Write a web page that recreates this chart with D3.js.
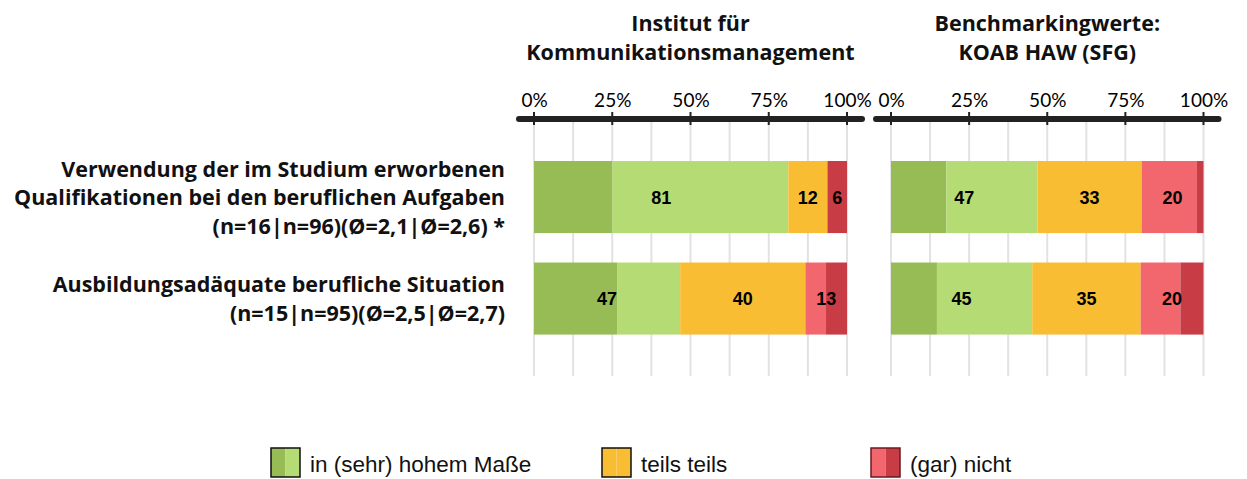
<!DOCTYPE html>
<html>
<head>
<meta charset="utf-8">
<script src="https://cdn.jsdelivr.net/npm/d3@7"></script>
<style>
  body { margin: 0; background: #fff; }
  svg { display: block; }
</style>
</head>
<body>
<svg id="chart" width="1247" height="479"></svg>
<script>
// Daten (Prozentwerte je Antwortkategorie)
const categories = ["verwendung", "adaequat"];
const categoryLabels = [
    ["Verwendung der im Studium erworbenen", "Qualifikationen bei den beruflichen Aufgaben", "(n=16|n=96)(Ø=2,1|Ø=2,6) *"],
    ["Ausbildungsadäquate berufliche Situation", "(n=15|n=95)(Ø=2,5|Ø=2,7)"]
];
const seriesKeys = ["sehrHoch", "hoch", "teils", "gering", "garNicht"];
const institutValues = [
    [25, 56.25, 12.5, 0, 6.25],
    [26.7, 20, 40, 6.6, 6.7]
];
const benchmarkValues = [
    [17.7, 29.2, 33.3, 17.7, 2.1],
    [14.7, 30.5, 34.7, 12.7, 7.4]
];
// Beschriftungen: grün gesamt | teils teils | rot gesamt
const institutLabels = [[81, 12, 6], [47, 40, 13]];
const benchmarkLabels = [[47, 33, 20], [45, 35, 20]];
const tickValues = [0, 25, 50, 75, 100];
const gridValues = [0, 12.5, 25, 37.5, 50, 62.5, 75, 87.5, 100];
const legendItems = ["in (sehr) hohem Maße", "teils teils", "(gar) nicht"];

const colors = ["#97bb55", "#b5dc74", "#f8bd33", "#f2676e", "#c83c45"];
const legendColors = [["#97bb55", "#b5dc74"], ["#f8bd33", "#f8bd33"], ["#f2676e", "#c83c45"]];
// Gruppen für die Beschriftungen (Spaltenindizes)
const labelGroups = [[0, 1], [2, 2], [3, 4]];

const svg = d3.select("#chart");
const tickFont = "Lato, 'Open Sans', sans-serif";
const boldFont = "'Open Sans', Lato, sans-serif";
const arial = "'Liberation Sans', Arial, sans-serif";

const y = d3.scaleBand()
    .domain(categories)
    .range([146.3, 349.3])
    .paddingInner(0.29)
    .paddingOuter(0.145);

const panels = [
    {title: ["Institut für", "Kommunikationsmanagement"], range: [534, 847], values: institutValues, labels: institutLabels},
    {title: ["Benchmarkingwerte:", "KOAB HAW (SFG)"], range: [891, 1203.5], values: benchmarkValues, labels: benchmarkLabels}
];

const axisY = 119;

panels.forEach(panel => {
    const x = d3.scaleLinear().domain([0, 100]).range(panel.range);
    const g = svg.append("g");

    // Gitternetzlinien
    g.selectAll(".grid")
        .data(gridValues)
        .enter()
        .append("line")
        .attr("x1", d => x(d))
        .attr("x2", d => x(d))
        .attr("y1", axisY)
        .attr("y2", 376)
        .attr("stroke", "#e2e2e2")
        .attr("stroke-width", 2);

    // gestapelte Balken
    const rows = panel.values.map((v, i) => {
        const obj = {cat: categories[i]};
        seriesKeys.forEach((k, j) => obj[k] = v[j]);
        return obj;
    });
    const stacked = d3.stack().keys(seriesKeys)(rows);

    g.selectAll(".serie")
        .data(stacked)
        .enter()
        .append("g")
        .attr("fill", (d, i) => colors[i])
        .selectAll("rect")
        .data(d => d)
        .enter()
        .append("rect")
        .attr("x", d => x(d[0]))
        .attr("y", d => y(d.data.cat))
        .attr("width", d => x(d[1]) - x(d[0]))
        .attr("height", y.bandwidth());

    // Werte-Beschriftungen
    panel.labels.forEach((labs, i) => {
        labs.forEach((lab, j) => {
            const [a, b] = labelGroups[j];
            const start = stacked[a][i][0];
            const end = stacked[b][i][1];
            g.append("text")
                .attr("x", x((start + end) / 2))
                .attr("y", y(categories[i]) + y.bandwidth() / 2)
                .attr("dy", "0.36em")
                .attr("text-anchor", "middle")
                .attr("font-family", arial)
                .attr("font-weight", "bold")
                .attr("font-size", 18)
                .attr("fill", "#000")
                .text(lab);
        });
    });

    // Achse oben
    g.append("line")
        .attr("x1", x(0) - 15)
        .attr("x2", x(100) + 15)
        .attr("y1", axisY)
        .attr("y2", axisY)
        .attr("stroke", "#222")
        .attr("stroke-width", 6)
        .attr("stroke-linecap", "round");

    const axis = g.append("g")
        .attr("transform", `translate(0,${axisY - 6})`)
        .call(d3.axisTop(x).tickValues(tickValues).tickFormat(d => d + "%").tickSize(0).tickPadding(6));
    axis.select(".domain").remove();
    axis.selectAll("text")
        .attr("font-family", tickFont)
        .attr("font-size", 19)
        .attr("fill", "#000");

    g.selectAll(".tick-mark")
        .data(tickValues)
        .enter()
        .append("line")
        .attr("x1", d => x(d))
        .attr("x2", d => x(d))
        .attr("y1", axisY - 7)
        .attr("y2", axisY + 6)
        .attr("stroke", "#222")
        .attr("stroke-width", 2);

    // Titel
    g.append("text")
        .attr("text-anchor", "middle")
        .attr("font-family", boldFont)
        .attr("font-weight", "bold")
        .attr("font-size", 21.5)
        .attr("fill", "#111")
        .selectAll("tspan")
        .data(panel.title)
        .enter()
        .append("tspan")
        .attr("x", (panel.range[0] + panel.range[1]) / 2)
        .attr("y", (d, i) => 31 + i * 28.5)
        .text(d => d);
});

// Kategorie-Beschriftungen links
categoryLabels.forEach((lines, i) => {
    const cy = y(categories[i]) + y.bandwidth() / 2;
    const top = cy - (lines.length - 1) * 28.7 / 2;
    svg.append("text")
        .attr("text-anchor", "end")
        .attr("font-family", boldFont)
        .attr("font-weight", "bold")
        .attr("font-size", 21.5)
        .attr("fill", "#111")
        .selectAll("tspan")
        .data(lines)
        .enter()
        .append("tspan")
        .attr("x", 505)
        .attr("y", (d, k) => top + k * 28.7)
        .attr("dy", "0.38em")
        .text(d => d);
});

// Legende
const legendX = [271, 602, 871];
legendItems.forEach((name, i) => {
    const lg = svg.append("g").attr("transform", `translate(${legendX[i]},448)`);
    lg.append("rect").attr("x", 0).attr("y", 0).attr("width", 14.5).attr("height", 29).attr("fill", legendColors[i][0]);
    lg.append("rect").attr("x", 14.5).attr("y", 0).attr("width", 14.5).attr("height", 29).attr("fill", legendColors[i][1]);
    lg.append("rect").attr("x", 0).attr("y", 0).attr("width", 29).attr("height", 29)
        .attr("fill", "none").attr("stroke", i === 2 ? "#6b1a1f" : "#111").attr("stroke-width", 1.5);
    lg.append("text")
        .attr("x", 39)
        .attr("y", 24)
        .attr("font-family", arial)
        .attr("font-size", 22.5)
        .attr("fill", "#111")
        .text(name);
});
</script>
</body>
</html>
